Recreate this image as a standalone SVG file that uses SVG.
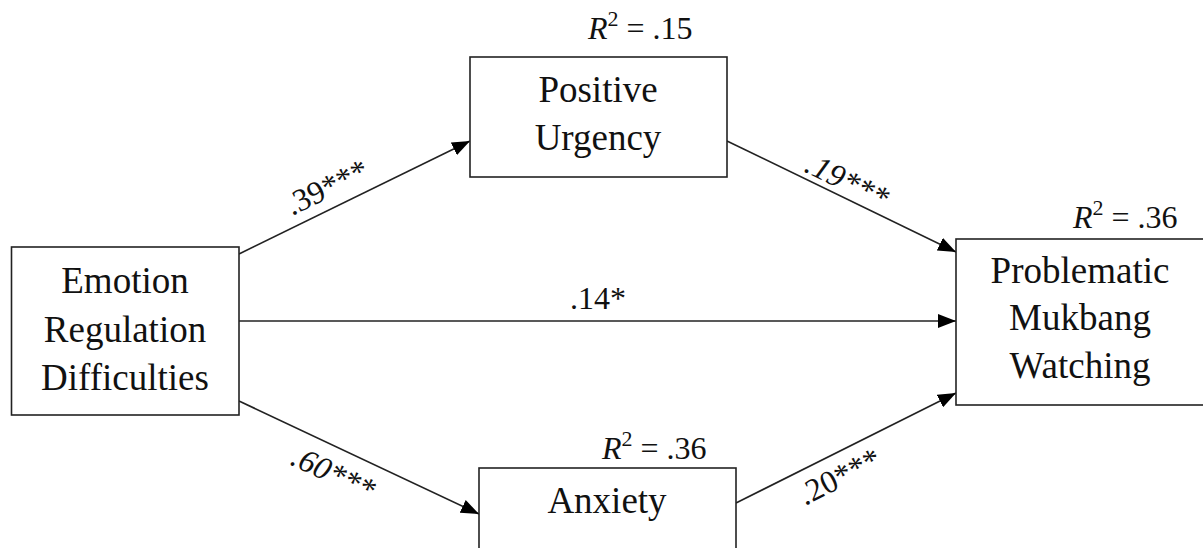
<svg xmlns="http://www.w3.org/2000/svg" width="1203" height="548" viewBox="0 0 1203 548">
<style>
.box{fill:#fff;stroke:#222;stroke-width:1.6}
.t{font-family:"Liberation Serif","Times New Roman",serif;font-size:37px;fill:#111;text-anchor:middle}
.lab{font-family:"Liberation Serif","Times New Roman",serif;font-size:32px;fill:#111}
.r2{font-family:"Liberation Serif","Times New Roman",serif;font-size:32px;fill:#111}
.sup{font-size:22px}
.c{stroke:#222;stroke-width:1.6;fill:none;marker-end:url(#ah)}
</style>
<defs>
<marker id="ah" viewBox="0 0 18 14" refX="18" refY="7" markerWidth="18" markerHeight="14" markerUnits="userSpaceOnUse" orient="auto">
<path d="M0,0 L18,7 L0,14 Z" fill="#000"/>
</marker>
</defs>
<rect width="1203" height="548" fill="#fff"/>
<g id="connectors">
<line class="c" x1="239" y1="254" x2="470" y2="141"/>
<line class="c" x1="727" y1="141" x2="956" y2="252"/>
<line class="c" x1="239" y1="321" x2="956" y2="321"/>
<line class="c" x1="239" y1="401" x2="479" y2="514"/>
<line class="c" x1="736" y1="503" x2="956" y2="393"/>
<text class="lab" transform="translate(292,216) rotate(-26)">.39***</text>
<text class="lab" font-style="italic" transform="translate(803,171) rotate(26)">.19***</text>
<text class="lab" x="598" y="309" text-anchor="middle">.14*</text>
<text class="lab" font-style="italic" transform="translate(289,464) rotate(25)">.60***</text>
<text class="lab" transform="translate(805,506) rotate(-27)">.20***</text>
</g>
<g id="node-emotion">
<rect class="box" x="11.5" y="247" width="227.5" height="168"/>
<text class="t" x="125" y="293">Emotion</text>
<text class="t" x="125" y="342">Regulation</text>
<text class="t" x="125" y="390">Difficulties</text>
</g>
<g id="node-positive-urgency">
<rect class="box" x="470" y="57" width="257" height="120"/>
<text class="t" x="598" y="102">Positive</text>
<text class="t" x="598" y="150">Urgency</text>
<text class="r2" x="588" y="39"><tspan font-style="italic">R</tspan><tspan class="sup" dy="-13">2</tspan><tspan dy="13"> = .15</tspan></text>
</g>
<g id="node-problematic">
<rect class="box" x="956" y="239" width="260" height="166"/>
<text class="t" x="1080" y="283">Problematic</text>
<text class="t" x="1080" y="330">Mukbang</text>
<text class="t" x="1080" y="378">Watching</text>
<text class="r2" x="1073" y="228"><tspan font-style="italic">R</tspan><tspan class="sup" dy="-13">2</tspan><tspan dy="13"> = .36</tspan></text>
</g>
<g id="node-anxiety">
<rect class="box" x="479" y="468" width="257" height="120"/>
<text class="t" x="607" y="513">Anxiety</text>
<text class="r2" x="602" y="459"><tspan font-style="italic">R</tspan><tspan class="sup" dy="-13">2</tspan><tspan dy="13"> = .36</tspan></text>
</g>
</svg>
